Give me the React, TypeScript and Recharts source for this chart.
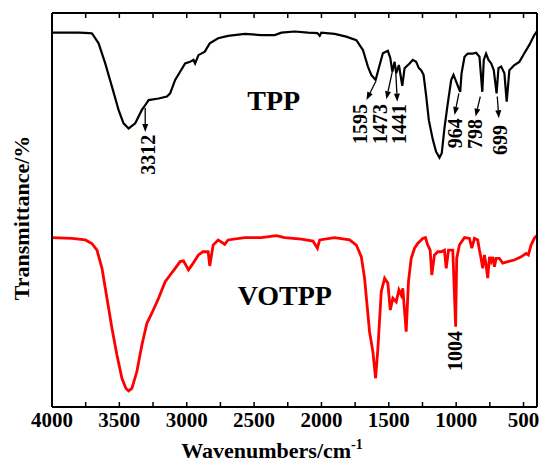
import React from 'react';
import { LineChart, Line, XAxis, YAxis, ReferenceLine, ReferenceDot } from 'recharts';

// FTIR spectra: wavenumber (cm-1) and relative transmittance
const tppWavenumber = [
  4000, 3800, 3720, 3703, 3654, 3605, 3555, 3506, 3469, 3431, 3382, 3333, 3312, 3283, 3209, 3147, 3123, 3086,
  3049, 3012, 2975, 2950, 2938, 2913, 2866, 2829, 2767, 2693, 2569, 2446, 2347, 2297, 2199, 2100, 2030, 2013,
  2001, 1902, 1816, 1741, 1692, 1655, 1630, 1598, 1568, 1544, 1507, 1489, 1474, 1457, 1445, 1425, 1400, 1383,
  1346, 1322, 1297, 1277, 1260, 1242, 1222, 1203, 1173, 1149, 1124, 1107, 1087, 1062, 1037, 1020, 1000, 970,
  960, 938, 914, 877, 852, 827, 806, 795, 778, 760, 740, 721, 700, 686, 666, 642, 625, 605, 568, 531, 494,
  457, 420, 402,
];
const tppTransmittance = [
  95.0, 95.0, 94.9, 94.8, 92.3, 87.2, 81.3, 75.4, 72.0, 70.7, 72.0, 75.4, 76.4, 77.9, 78.3, 78.8, 79.6, 83.0,
  85.1, 87.2, 87.6, 88.1, 87.2, 89.3, 90.2, 92.3, 93.6, 94.2, 94.7, 94.4, 94.4, 95.0, 95.3, 95.0, 94.9, 94.2,
  95.0, 94.7, 94.0, 93.1, 90.6, 86.4, 84.3, 83.0, 86.8, 89.8, 90.4, 88.6, 85.1, 87.6, 84.7, 86.8, 81.5, 86.0,
  87.2, 88.1, 87.6, 86.0, 85.5, 84.3, 78.8, 72.8, 67.8, 64.8, 63.3, 64.4, 70.8, 77.1, 83.0, 84.3, 82.6, 80.0,
  84.7, 88.9, 89.7, 89.7, 89.9, 88.9, 80.0, 88.1, 89.7, 88.1, 87.2, 85.5, 79.6, 86.0, 86.4, 84.7, 77.5, 85.5,
  86.8, 87.6, 89.8, 91.9, 94.4, 95.3,
];

const votppWavenumber = [
  4000, 3852, 3753, 3704, 3666, 3629, 3592, 3555, 3518, 3481, 3451, 3431, 3407, 3370, 3333, 3296, 3259, 3209,
  3160, 3123, 3086, 3049, 3024, 2987, 2962, 2913, 2880, 2841, 2829, 2804, 2767, 2718, 2693, 2569, 2446, 2334,
  2273, 2149, 2063, 2030, 2013, 1902, 1828, 1791, 1741, 1704, 1680, 1643, 1618, 1598, 1581, 1556, 1531, 1507,
  1489, 1470, 1445, 1425, 1408, 1396, 1371, 1354, 1334, 1309, 1285, 1248, 1228, 1211, 1193, 1181, 1161, 1136,
  1111, 1087, 1074, 1057, 1025, 1004, 996, 976, 938, 901, 884, 864, 840, 827, 815, 803, 790, 778, 766, 753,
  740, 728, 716, 703, 679, 654, 617, 568, 518, 481, 464, 444, 420, 402,
];
const votppTransmittance = [
  43.0, 42.8, 42.4, 41.5, 39.8, 35.2, 27.6, 20.0, 13.2, 7.3, 4.7, 4.1, 4.7, 9.0, 15.7, 21.2, 23.8, 27.6,
  31.8, 33.5, 35.2, 36.9, 37.1, 34.8, 36.0, 38.6, 39.4, 39.4, 35.8, 41.1, 42.4, 41.3, 42.4, 43.0, 43.0, 43.5,
  43.0, 42.6, 42.1, 40.3, 42.4, 43.0, 42.6, 42.4, 41.1, 38.1, 32.7, 19.1, 14.0, 7.3, 14.9, 29.3, 32.7, 31.4,
  24.6, 27.6, 26.7, 29.7, 28.4, 30.1, 19.1, 31.8, 37.7, 40.3, 41.5, 42.8, 43.0, 41.1, 39.8, 33.5, 38.6, 39.4,
  39.4, 39.8, 35.2, 39.8, 39.8, 20.4, 37.7, 41.1, 43.0, 42.8, 40.3, 42.8, 42.4, 39.8, 37.7, 35.2, 38.6, 36.0,
  32.7, 38.1, 36.9, 38.1, 35.6, 37.7, 37.7, 36.5, 36.9, 37.3, 38.1, 39.0, 38.6, 41.1, 42.8, 43.5,
];

const xTicks = [4000, 3750, 3500, 3250, 3000, 2750, 2500, 2250, 2000, 1750, 1500, 1250, 1000, 750, 500];

// Peak annotations: arrow from (fromW, fromT) to (toW, toT), text centred at (textW, textT)
const peakText = ['3312', '1595', '1473', '1441', '964', '798', '699'];
const peakFromW = [3308, 1597, 1474, 1449, 980, 821, 695];
const peakFromT = [75.9, 82.6, 85.1, 85.5, 79.6, 78.8, 78.8];
const peakToW = [3308, 1666, 1518, 1437, 1012, 856, 683];
const peakToT = [69.8, 77.9, 78.1, 77.5, 74.1, 73.7, 73.3];
const peakTextW = [3284, 1712, 1564, 1423, 1008, 860, 674];
const peakTextT = [64.0, 71.8, 71.8, 71.8, 69.5, 69.3, 67.8];

const vLabel = { text: '1004', w: 1008, t: 14.2 };
const seriesNames = [
  { text: 'TPP', w: 2354, t: 75.4 },
  { text: 'VOTPP', w: 2272, t: 25.9 },
];

const tppData = tppWavenumber.map((w, i) => ({ w, t: tppTransmittance[i] }));
const votppData = votppWavenumber.map((w, i) => ({ w, t: votppTransmittance[i] }));

const FONT = "'Times New Roman', 'Liberation Serif', serif";

const ArrowShape = (p: any) => {
  const { x1, y1, x2, y2 } = p;
  const dx = x2 - x1;
  const dy = y2 - y1;
  const len = Math.hypot(dx, dy) || 1;
  const ux = dx / len;
  const uy = dy / len;
  const head = 8;
  const half = 3;
  const bx = x2 - ux * head;
  const by = y2 - uy * head;
  const pts = `${x2},${y2} ${bx - uy * half},${by + ux * half} ${bx + uy * half},${by - ux * half}`;
  return (
    <g>
      <line x1={x1} y1={y1} x2={bx} y2={by} stroke="#000" strokeWidth={1.3} />
      <polygon points={pts} fill="#000" />
    </g>
  );
};

const rotatedText = (text: string) => (p: any) => (
  <text
    x={p.cx}
    y={p.cy}
    transform={`rotate(-90 ${p.cx} ${p.cy})`}
    textAnchor="middle"
    dominantBaseline="central"
    fontFamily={FONT}
    fontWeight="bold"
    fontSize={20}
    fill="#000"
  >
    {text}
  </text>
);

const nameText = (text: string) => (p: any) => (
  <text x={p.cx} y={p.cy} textAnchor="middle" fontFamily={FONT} fontWeight="bold" fontSize={28} fill="#000">
    {text}
  </text>
);

export default function App() {
  return (
    <div style={{ position: 'absolute', left: 0, top: 0, width: 542, height: 465, background: '#fff' }}>
      <LineChart width={542} height={465} margin={{ top: 12, right: 4, bottom: 57, left: 51 }}>
        <XAxis
          dataKey="w"
          type="number"
          domain={[400, 4000]}
          reversed
          allowDataOverflow
          ticks={xTicks}
          interval={0}
          height={1}
          tickSize={-5}
          tickMargin={10}
          tickFormatter={(v: number) => (v % 500 === 0 ? String(v) : '')}
          axisLine={{ stroke: '#000', strokeWidth: 2 }}
          tickLine={{ stroke: '#000', strokeWidth: 1.5 }}
          tick={{ fill: '#000', fontFamily: FONT, fontWeight: 'bold', fontSize: 21 }}
          label={{
            content: () => (
              <text x={272} y={458} textAnchor="middle" fontFamily={FONT} fontWeight="bold" fontSize={22} fill="#000">
                Wavenumbers/cm
                <tspan dy={-9} fontSize={14}>-1</tspan>
              </text>
            ),
          }}
        />
        <XAxis
          xAxisId="top"
          orientation="top"
          dataKey="w"
          type="number"
          domain={[400, 4000]}
          reversed
          allowDataOverflow
          ticks={xTicks}
          interval={0}
          height={1}
          tickSize={-5}
          tickFormatter={() => ''}
          axisLine={{ stroke: '#000', strokeWidth: 2 }}
          tickLine={{ stroke: '#000', strokeWidth: 1.5 }}
        />
        <YAxis
          type="number"
          domain={[0, 100]}
          allowDataOverflow
          width={1}
          tick={false}
          tickLine={false}
          axisLine={{ stroke: '#000', strokeWidth: 2 }}
          label={{
            content: () => (
              <text
                x={21}
                y={218}
                transform="rotate(-90 21 218)"
                textAnchor="middle"
                dominantBaseline="central"
                fontFamily={FONT}
                fontWeight="bold"
                fontSize={22}
                fill="#000"
              >
                Transmittance/%
              </text>
            ),
          }}
        />
        <YAxis
          yAxisId="right"
          orientation="right"
          type="number"
          domain={[0, 100]}
          width={1}
          tick={false}
          tickLine={false}
          axisLine={{ stroke: '#000', strokeWidth: 2 }}
        />
        <Line
          data={tppData}
          dataKey="t"
          type="linear"
          stroke="#000"
          strokeWidth={2.2}
          dot={false}
          isAnimationActive={false}
        />
        <Line
          data={votppData}
          dataKey="t"
          type="linear"
          stroke="#ff0000"
          strokeWidth={2.8}
          dot={false}
          isAnimationActive={false}
        />
        {peakText.map((txt, i) => (
          <ReferenceLine
            key={`arrow-${txt}`}
            segment={[
              { x: peakFromW[i], y: peakFromT[i] },
              { x: peakToW[i], y: peakToT[i] },
            ]}
            ifOverflow="visible"
            shape={ArrowShape}
          />
        ))}
        {peakText.map((txt, i) => (
          <ReferenceDot
            key={`label-${txt}`}
            x={peakTextW[i]}
            y={peakTextT[i]}
            r={0}
            ifOverflow="visible"
            shape={rotatedText(txt)}
          />
        ))}
        <ReferenceDot x={vLabel.w} y={vLabel.t} r={0} ifOverflow="visible" shape={rotatedText(vLabel.text)} />
        {seriesNames.map((s) => (
          <ReferenceDot key={s.text} x={s.w} y={s.t} r={0} ifOverflow="visible" shape={nameText(s.text)} />
        ))}
      </LineChart>
    </div>
  );
}
